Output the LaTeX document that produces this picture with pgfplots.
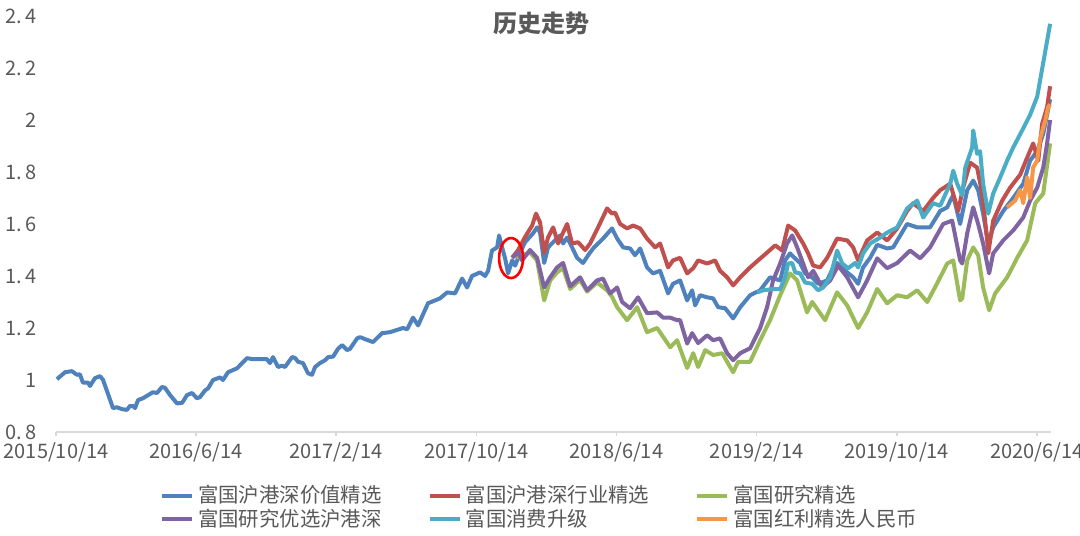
\documentclass[border=0pt]{standalone}
\usepackage{fontspec}
\setmainfont{Noto Sans CJK SC}
\usepackage{pgfplots}
\pgfplotsset{compat=1.18}
\definecolor{sblue}{HTML}{4F81BD}
\definecolor{sred}{HTML}{C0504D}
\definecolor{sgreen}{HTML}{9BBB59}
\definecolor{spurple}{HTML}{8064A2}
\definecolor{scyan}{HTML}{4BACC6}
\definecolor{sorange}{HTML}{F79646}
\definecolor{axgray}{HTML}{D9D9D9}
\definecolor{txtgray}{HTML}{595959}

\begin{document}
\begin{tikzpicture}
\begin{axis}[
  scale only axis, width=497.4pt, height=208pt,
  xmin=0.057, xmax=56.33, ymin=0.8, ymax=2.4,
  axis lines*=left,
  y axis line style={draw=none},
  x axis line style={draw=axgray, line width=0.8pt},
  xtick={0.057,7.98,15.91,23.84,31.76,39.69,47.62,55.54},
  xticklabels={2015/10/14,2016/6/14,2017/2/14,2017/10/14,2018/6/14,2019/2/14,2019/10/14,2020/6/14},
  ytick={0.8,1,1.2,1.4,1.6,1.8,2,2.2,2.4},
  yticklabels={0.\,8,1,1.\,2,1.\,4,1.\,6,1.\,8,2,2.\,2,2.\,4},
  tick align=outside,
  xtick style={draw=axgray, line width=0.8pt},
  ytick style={draw=none},
  major tick length=2pt,
  tick label style={font=\fontsize{10}{12}\selectfont, text=txtgray},
  yticklabel style={xshift=-4pt},
  clip=false,
  legend columns=3,
  legend cell align=left,
  legend style={at={(0.487,-0.108)}, anchor=north, draw=none,
    font=\fontsize{10.2}{12}\selectfont, text=txtgray, row sep=-2.5pt,
    /tikz/every even column/.append style={column sep=21pt}},
  legend image code/.code={\draw[#1] (0pt,0pt) -- (15pt,0pt);},
  every axis plot/.append style={line width=2pt, line join=round},
]
% 富国沪港深价值精选
\addplot[sblue] coordinates {
(0.11,1.003)(0.57,1.03)(0.96,1.034)(1.24,1.02)(1.41,1.022)(1.58,0.99)(1.87,0.99)(1.98,0.977)
(2.26,1.007)(2.55,1.015)(2.72,1.0)(3.28,0.892)(3.51,0.895)(3.79,0.888)(4.07,0.885)(4.24,0.90)
(4.41,0.90)(4.53,0.892)(4.70,0.923)(4.98,0.93)(5.54,0.953)(5.77,0.95)(6.05,0.973)(6.22,0.97)
(6.51,0.942)(6.90,0.91)(7.19,0.912)(7.47,0.942)(7.75,0.95)(8.03,0.93)(8.20,0.934)(8.49,0.96)
(8.66,0.968)(8.94,1.0)(9.34,1.01)(9.50,1.0)(9.79,1.03)(10.30,1.045)(10.86,1.084)(11.20,1.08)
(11.99,1.08)(12.16,1.065)(12.33,1.088)(12.62,1.05)(12.84,1.055)(13.01,1.05)(13.41,1.088)
(13.58,1.085)(13.75,1.07)(14.03,1.065)(14.31,1.026)(14.54,1.02)(14.71,1.05)(14.99,1.065)
(15.28,1.076)(15.45,1.088)(15.73,1.09)(16.01,1.12)(16.24,1.134)(16.52,1.115)(16.69,1.12)
(17.09,1.16)(17.26,1.165)(17.54,1.157)(17.99,1.146)(18.50,1.18)(18.95,1.184)(19.69,1.20)
(19.92,1.195)(20.25,1.24)(20.54,1.21)(21.10,1.295)(21.78,1.314)(22.18,1.337)(22.63,1.333)
(23.03,1.39)(23.31,1.356)(23.59,1.40)(24.05,1.414)(24.33,1.40)(24.50,1.42)(24.72,1.498)
(25.01,1.51)(25.12,1.556)(25.29,1.51)(25.46,1.468)(25.63,1.41)(25.86,1.46)(26.03,1.44)
(26.31,1.49)(26.59,1.53)(27.04,1.564)(27.27,1.587)(27.44,1.567)(27.67,1.45)(27.89,1.51)
(28.18,1.53)(28.57,1.556)(28.74,1.525)(28.97,1.548)(29.25,1.51)(29.53,1.47)(29.87,1.45)
(30.16,1.48)(30.44,1.506)(31.00,1.544)(31.51,1.583)(31.80,1.544)(32.14,1.51)(32.53,1.506)
(32.81,1.48)(33.10,1.506)(33.49,1.433)(33.83,1.41)(34.23,1.42)(34.68,1.333)(34.96,1.37)
(35.36,1.383)(35.76,1.306)(36.04,1.345)(36.21,1.287)(36.49,1.326)(36.89,1.318)(37.23,1.314)
(37.51,1.28)(37.91,1.276)(38.36,1.237)(38.76,1.28)(39.32,1.326)(39.89,1.345)(40.45,1.395)
(41.02,1.383)(41.30,1.46)(41.58,1.487)(41.75,1.475)(42.15,1.45)(42.43,1.41)(42.83,1.395)
(43.17,1.37)(43.68,1.383)(44.02,1.433)(44.24,1.45)(44.70,1.42)(45.15,1.395)(45.43,1.37)
(45.71,1.433)(46.11,1.47)(46.51,1.52)(47.07,1.506)(47.41,1.51)(48.20,1.60)(48.77,1.587)
(49.50,1.587)(50.07,1.65)(50.47,1.664)(50.64,1.69)(50.81,1.71)(51.20,1.60)(51.60,1.73)
(51.94,1.767)(52.22,1.73)(52.50,1.64)(52.79,1.525)(53.07,1.587)(53.64,1.65)(54.20,1.70)
(54.77,1.755)(55.16,1.844)(55.56,1.88)(55.90,1.947)(56.29,2.08)};
\addlegendentry{富国沪港深价值精选}
% 富国沪港深行业精选
\addplot[sred] coordinates {
(25.86,1.47)(26.20,1.50)(26.59,1.55)(26.99,1.594)(27.21,1.64)(27.44,1.606)(27.67,1.49)
(27.89,1.548)(28.18,1.587)(28.46,1.525)(28.74,1.567)(28.97,1.60)(29.25,1.525)(29.59,1.53)
(29.99,1.50)(30.27,1.525)(30.72,1.587)(31.23,1.66)(31.51,1.64)(31.68,1.644)(31.97,1.60)
(32.36,1.583)(32.70,1.594)(33.10,1.583)(33.49,1.544)(33.95,1.51)(34.23,1.525)(34.68,1.433)
(34.96,1.46)(35.36,1.47)(35.76,1.41)(36.10,1.43)(36.38,1.46)(36.89,1.448)(37.34,1.46)
(37.62,1.42)(38.02,1.395)(38.36,1.364)(38.76,1.395)(39.32,1.433)(39.77,1.46)(40.28,1.49)
(40.74,1.518)(41.13,1.498)(41.47,1.594)(41.87,1.575)(42.32,1.525)(42.60,1.487)(42.89,1.44)
(43.28,1.433)(43.68,1.47)(44.24,1.544)(44.81,1.537)(45.15,1.51)(45.43,1.46)(45.94,1.537)
(46.51,1.567)(47.07,1.537)(47.64,1.583)(48.20,1.65)(48.54,1.68)(49.11,1.65)(49.67,1.70)
(50.07,1.73)(50.64,1.755)(51.09,1.65)(51.37,1.74)(51.77,1.836)(52.16,1.817)(52.45,1.717)
(52.73,1.537)(52.79,1.487)(53.07,1.613)(53.58,1.69)(54.03,1.74)(54.60,1.79)(54.99,1.855)
(55.33,1.91)(55.62,1.844)(55.84,1.985)(56.12,2.05)(56.29,2.13)};
\addlegendentry{富国沪港深行业精选}
% 富国研究精选
\addplot[sgreen] coordinates {
(26.10,1.47)(26.42,1.48)(26.87,1.49)(27.27,1.46)(27.67,1.306)(28.01,1.383)(28.40,1.414)
(28.74,1.43)(29.14,1.35)(29.70,1.385)(30.10,1.34)(30.66,1.375)(31.23,1.345)(31.51,1.32)
(31.80,1.28)(32.36,1.23)(32.93,1.28)(33.49,1.184)(34.06,1.20)(34.80,1.126)(35.19,1.153)
(35.76,1.046)(36.10,1.103)(36.38,1.05)(36.78,1.115)(37.23,1.096)(37.74,1.103)(38.19,1.05)
(38.36,1.03)(38.64,1.07)(39.32,1.07)(39.89,1.153)(40.45,1.23)(41.02,1.326)(41.58,1.41)
(41.98,1.383)(42.54,1.26)(42.83,1.30)(43.28,1.257)(43.56,1.23)(44.24,1.337)(44.81,1.287)
(45.43,1.20)(45.94,1.26)(46.51,1.35)(47.07,1.295)(47.64,1.326)(48.20,1.318)(48.77,1.345)
(49.34,1.30)(49.90,1.372)(50.47,1.448)(50.81,1.46)(51.20,1.306)(51.32,1.314)(51.60,1.46)
(51.94,1.51)(52.22,1.48)(52.50,1.356)(52.84,1.268)(53.18,1.333)(53.86,1.395)(54.43,1.47)
(54.99,1.537)(55.45,1.68)(55.90,1.717)(56.29,1.91)};
\addlegendentry{富国研究精选}
% 富国研究优选沪港深
\addplot[spurple] coordinates {
(25.86,1.47)(26.20,1.49)(26.42,1.46)(26.87,1.50)(27.27,1.47)(27.67,1.356)(28.01,1.395)
(28.40,1.433)(28.74,1.45)(29.14,1.36)(29.70,1.395)(30.10,1.345)(30.66,1.383)(31.00,1.39)
(31.40,1.333)(31.80,1.356)(32.08,1.30)(32.53,1.276)(32.98,1.318)(33.49,1.257)(34.06,1.26)
(34.40,1.24)(34.80,1.24)(35.19,1.23)(35.36,1.23)(35.76,1.14)(36.04,1.18)(36.38,1.142)
(36.89,1.172)(37.23,1.153)(37.62,1.16)(38.02,1.103)(38.36,1.076)(38.76,1.103)(39.32,1.122)
(39.89,1.20)(40.28,1.28)(40.62,1.383)(41.02,1.448)(41.41,1.525)(41.70,1.556)(41.98,1.51)
(42.32,1.448)(42.60,1.395)(42.89,1.42)(43.40,1.356)(43.85,1.383)(44.30,1.44)(44.81,1.395)
(45.43,1.318)(45.94,1.383)(46.51,1.468)(47.07,1.43)(47.64,1.45)(48.37,1.498)(48.94,1.468)
(49.50,1.51)(50.24,1.60)(50.75,1.613)(51.20,1.46)(51.32,1.448)(51.60,1.564)(51.94,1.664)
(52.22,1.60)(52.50,1.525)(52.84,1.41)(53.07,1.487)(53.64,1.537)(54.20,1.575)(54.77,1.625)
(55.16,1.69)(55.56,1.74)(55.90,1.817)(56.12,1.91)(56.29,2.0)};
\addlegendentry{富国研究优选沪港深}
% 富国消费升级
\addplot[scyan] coordinates {
(39.72,1.337)(40.06,1.345)(40.62,1.35)(41.02,1.35)(41.30,1.395)(41.47,1.448)(41.70,1.45)
(41.87,1.414)(42.15,1.41)(42.43,1.375)(42.83,1.37)(43.17,1.345)(43.45,1.356)(43.85,1.395)
(44.24,1.498)(44.53,1.448)(44.87,1.43)(45.26,1.45)(45.43,1.433)(45.71,1.487)(46.11,1.525)
(46.68,1.548)(47.07,1.567)(47.64,1.587)(48.20,1.66)(48.77,1.69)(49.11,1.625)(49.67,1.68)
(50.07,1.67)(50.64,1.755)(50.81,1.805)(51.03,1.755)(51.32,1.71)(51.49,1.817)(51.88,1.894)
(51.94,1.96)(52.16,1.87)(52.33,1.88)(52.50,1.755)(52.79,1.64)(53.07,1.717)(53.47,1.78)
(53.86,1.844)(54.20,1.894)(54.71,1.96)(55.16,2.02)(55.56,2.09)(55.90,2.22)(56.29,2.37)};
\addlegendentry{富国消费升级}
% 富国红利精选人民币
\addplot[sorange] coordinates {
(53.86,1.664)(54.31,1.69)(54.60,1.73)(54.77,1.68)(54.99,1.78)(55.16,1.70)(55.33,1.817)
(55.56,1.844)(55.73,1.93)(56.01,1.997)(56.18,2.05)(56.29,2.06)};
\addlegendentry{富国红利精选人民币}
\node[font=\bfseries\fontsize{12}{14}\selectfont, text=txtgray] at (rel axis cs:0.488,0.983) {历史走势};
\draw[red, line width=1.3pt] (axis cs:25.8,1.469) ellipse [x radius=6pt, y radius=10pt];
\end{axis}
\pgfresetboundingbox
\path (-28pt,-51.5pt) rectangle (512pt,216pt);
\end{tikzpicture}
\end{document}
